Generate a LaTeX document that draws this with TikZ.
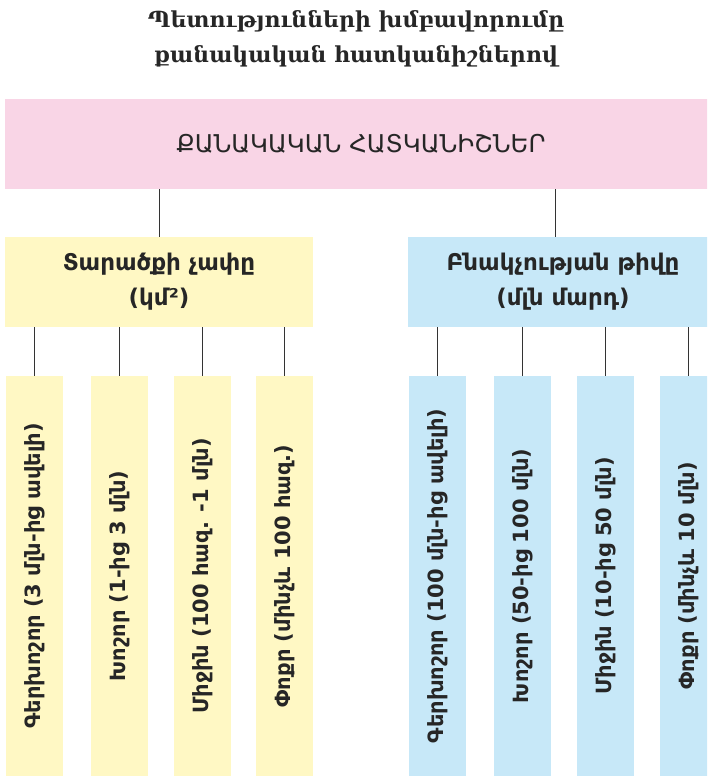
\documentclass[tikz,border=0pt]{standalone}
\usepackage{fontspec}
\setmainfont{DejaVu Serif}
\newfontfamily\armsans{DejaVu Sans}
\definecolor{headpink}{HTML}{F9D5E6}
\definecolor{areayellow}{HTML}{FFF8C4}
\definecolor{popblue}{HTML}{C7E8F8}

\begin{document}
\begin{tikzpicture}[x=1pt,y=-1pt,
  box/.style={inner sep=0pt, align=center, text=black!85},
  head/.style={box, fill=headpink, minimum width=712pt, minimum height=90pt, font=\armsans\fontsize{24.5}{28}\selectfont},
  group/.style={box, minimum height=90pt, font=\armsans\bfseries\fontsize{23}{37}\selectfont},
  leaf/.style={box, minimum width=57pt, minimum height=400pt, font=\armsans\bfseries\fontsize{21}{24}\selectfont},
  link/.style={black!80, line width=0.8pt}]
\clip (0,0) rectangle (707,776);
\useasboundingbox (0,0) rectangle (707,776);

% title
\node[align=center, text=black!85, font=\bfseries\fontsize{22}{35}\selectfont] (title) at (356,39)
  {Պետությունների խմբավորումը\\քանակական հատկանիշներով};

% top box
\node[head] (top) at (361,144) {ՔԱՆԱԿԱԿԱՆ ՀԱՏԿԱՆԻՇՆԵՐ};

% second level
\node[group, fill=areayellow, minimum width=308pt] (area) at (159,282) {\raisebox{-2pt}{Տարածքի չափը}\\(կմ²)};
\node[group, fill=popblue, minimum width=310pt] (pop) at (563,282) {\raisebox{-2pt}{Բնակչության թիվը}\\(մլն մարդ)};
\draw[link] (area.north) -- (area.north |- top.south);
\draw[link] ([xshift=-8pt]pop.north) -- ([xshift=-8pt]pop.north |- top.south);

% area leaves
\node[leaf, fill=areayellow] (a1) at (34.5,576) {\rotatebox{90}{Գերխոշոր (3 մլն-ից ավելի)}};
\node[leaf, fill=areayellow] (a2) at (119.5,576) {\rotatebox{90}{Խոշոր (1-ից 3 մլն)}};
\node[leaf, fill=areayellow] (a3) at (202.5,576) {\rotatebox{90}{Միջին (100 հազ. -1 մլն)}};
\node[leaf, fill=areayellow] (a4) at (284.5,576) {\rotatebox{90}{Փոքր (մինչև 100 հազ.)}};

% population leaves
\node[leaf, fill=popblue] (p1) at (437.5,576) {\rotatebox{90}{Գերխոշոր (100 մլն-ից ավելի)}};
\node[leaf, fill=popblue] (p2) at (522.5,576) {\rotatebox{90}{Խոշոր (50-ից 100 մլն)}};
\node[leaf, fill=popblue] (p3) at (605.5,576) {\rotatebox{90}{Միջին (10-ից 50 մլն)}};
\node[leaf, fill=popblue] (p4) at (688.5,576) {\rotatebox{90}{Փոքր (մինչև 10 մլն)}};

\draw[link] (a1.north) -- (a1.north |- area.south);
\draw[link] (a2.north) -- (a2.north |- area.south);
\draw[link] (a3.north) -- (a3.north |- area.south);
\draw[link] (a4.north) -- (a4.north |- area.south);
\draw[link] (p1.north) -- (p1.north |- pop.south);
\draw[link] (p2.north) -- (p2.north |- pop.south);
\draw[link] (p3.north) -- (p3.north |- pop.south);
\draw[link] (p4.north) -- (p4.north |- pop.south);
\end{tikzpicture}
\end{document}
